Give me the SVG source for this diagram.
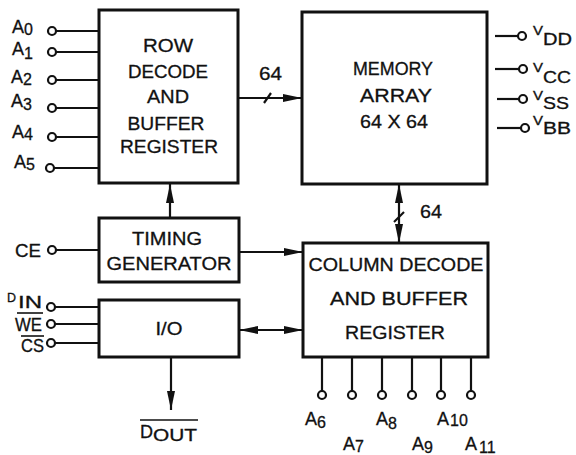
<svg xmlns="http://www.w3.org/2000/svg" width="576" height="455" viewBox="0 0 576 455">
<style>
.box{fill:#fff;stroke:#111;stroke-width:3}
.ln{stroke:#111;stroke-width:2.2;fill:none}
.ov{stroke:#111;stroke-width:1.6;fill:none}
.pin{fill:#fff;stroke:#111;stroke-width:2.2}
text{font-family:"Liberation Sans",Arial,Helvetica,sans-serif;fill:#111;stroke:#111;stroke-width:0.3}
.t{font-size:18px;text-anchor:middle}
.l{font-size:18px}
.s{font-size:16px}
.v{font-size:12px}
</style>
<defs>
<marker id="ah" markerUnits="userSpaceOnUse" markerWidth="20" markerHeight="9" refX="19" refY="4.5" orient="auto-start-reverse">
<path d="M0,0.5 L19,4.5 L0,8.5 z" fill="#111"/>
</marker>
</defs>
<rect width="576" height="455" fill="#fff"/>

<g id="connectors">
<line class="ln" x1="56" y1="31" x2="99" y2="31"/>
<line class="ln" x1="56" y1="52" x2="99" y2="52"/>
<line class="ln" x1="56" y1="80" x2="99" y2="80"/>
<line class="ln" x1="56" y1="108" x2="99" y2="108"/>
<line class="ln" x1="56" y1="137" x2="99" y2="137"/>
<line class="ln" x1="54" y1="168" x2="99" y2="168"/>
<line class="ln" x1="56" y1="250" x2="99" y2="250"/>
<line class="ln" x1="55" y1="307" x2="99" y2="307"/>
<line class="ln" x1="55" y1="324" x2="99" y2="324"/>
<line class="ln" x1="55" y1="343" x2="99" y2="343"/>
<line class="ln" x1="495" y1="36" x2="518" y2="36"/>
<line class="ln" x1="495" y1="69" x2="519" y2="69"/>
<line class="ln" x1="497" y1="99" x2="519" y2="99"/>
<line class="ln" x1="497" y1="128" x2="521" y2="128"/>
<line class="ln" x1="238" y1="98" x2="302" y2="98" marker-end="url(#ah)"/>
<line class="ln" x1="264" y1="103" x2="271" y2="93"/>
<line class="ln" x1="399" y1="184" x2="399" y2="243" marker-start="url(#ah)" marker-end="url(#ah)"/>
<line class="ln" x1="394" y1="222" x2="404" y2="212"/>
<line class="ln" x1="170" y1="218" x2="170" y2="184" marker-end="url(#ah)"/>
<line class="ln" x1="239" y1="252" x2="303" y2="252" marker-end="url(#ah)"/>
<line class="ln" x1="239" y1="330" x2="303" y2="330" marker-start="url(#ah)" marker-end="url(#ah)"/>
<line class="ln" x1="171" y1="357" x2="171" y2="410" marker-end="url(#ah)"/>
<line class="ln" x1="322" y1="357" x2="322" y2="391"/>
<line class="ln" x1="352" y1="357" x2="352" y2="391"/>
<line class="ln" x1="382" y1="357" x2="382" y2="391"/>
<line class="ln" x1="412" y1="357" x2="412" y2="391"/>
<line class="ln" x1="441" y1="357" x2="441" y2="391"/>
<line class="ln" x1="471" y1="357" x2="471" y2="391"/>
<text class="l" x="259" y="80" textLength="23" lengthAdjust="spacingAndGlyphs">64</text>
<text class="l" x="420" y="218" textLength="22" lengthAdjust="spacingAndGlyphs">64</text>
</g>

<g id="row-decode">
<rect class="box" x="99" y="10" width="139" height="173"/>
<text class="t" x="168" y="52" textLength="50" lengthAdjust="spacingAndGlyphs">ROW</text>
<text class="t" x="168" y="78" textLength="80" lengthAdjust="spacingAndGlyphs">DECODE</text>
<text class="t" x="168" y="103" textLength="42" lengthAdjust="spacingAndGlyphs">AND</text>
<text class="t" x="166" y="130" textLength="77" lengthAdjust="spacingAndGlyphs">BUFFER</text>
<text class="t" x="169" y="153" textLength="98" lengthAdjust="spacingAndGlyphs">REGISTER</text>
</g>

<g id="memory-array">
<rect class="box" x="302" y="12" width="185" height="172"/>
<text class="t" x="393" y="75" textLength="80" lengthAdjust="spacingAndGlyphs">MEMORY</text>
<text class="t" x="396" y="102" textLength="72" lengthAdjust="spacingAndGlyphs">ARRAY</text>
<text class="t" x="394" y="128" textLength="68" lengthAdjust="spacingAndGlyphs">64 X 64</text>
</g>

<g id="timing-generator">
<rect class="box" x="99" y="218" width="140" height="64"/>
<text class="t" x="167" y="245" textLength="70" lengthAdjust="spacingAndGlyphs">TIMING</text>
<text class="t" x="169" y="270" textLength="125" lengthAdjust="spacingAndGlyphs">GENERATOR</text>
</g>

<g id="io">
<rect class="box" x="99" y="300" width="140" height="57"/>
<text class="t" x="169" y="335" textLength="27" lengthAdjust="spacingAndGlyphs">I/O</text>
</g>

<g id="column-decode">
<rect class="box" x="303" y="243" width="185" height="114"/>
<text class="t" x="396" y="271" textLength="175" lengthAdjust="spacingAndGlyphs">COLUMN DECODE</text>
<text class="t" x="399" y="305" textLength="138" lengthAdjust="spacingAndGlyphs">AND  BUFFER</text>
<text class="t" x="395" y="339" textLength="100" lengthAdjust="spacingAndGlyphs">REGISTER</text>
</g>

<g id="row-address-pins">
<circle class="pin" cx="52" cy="31" r="4"/>
<circle class="pin" cx="52" cy="52" r="4"/>
<circle class="pin" cx="52" cy="80" r="4"/>
<circle class="pin" cx="52" cy="108" r="4"/>
<circle class="pin" cx="52" cy="137" r="4"/>
<circle class="pin" cx="50" cy="168" r="4"/>
<text class="l" x="12" y="33">A<tspan class="s" dy="2">0</tspan></text>
<text class="l" x="12" y="55">A<tspan class="s" dy="4">1</tspan></text>
<text class="l" x="11" y="83">A<tspan class="s" dy="2">2</tspan></text>
<text class="l" x="11" y="107">A<tspan class="s" dy="3">3</tspan></text>
<text class="l" x="12" y="138">A<tspan class="s" dy="2">4</tspan></text>
<text class="l" x="14" y="168">A<tspan class="s" dy="2">5</tspan></text>
</g>

<g id="ce-pin">
<circle class="pin" cx="52" cy="250" r="4"/>
<text class="l" x="15" y="257" textLength="26" lengthAdjust="spacingAndGlyphs">CE</text>
</g>

<g id="io-pins">
<circle class="pin" cx="51" cy="307" r="4"/>
<circle class="pin" cx="51" cy="324" r="4"/>
<circle class="pin" cx="51" cy="343" r="4"/>
<text class="v" x="7" y="302" textLength="9" lengthAdjust="spacingAndGlyphs">D</text>
<text class="s" x="18" y="308" textLength="24" lengthAdjust="spacingAndGlyphs">IN</text>
<line class="ov" x1="17" y1="313" x2="43" y2="313"/>
<text class="l" x="15" y="331" textLength="27" lengthAdjust="spacingAndGlyphs">WE</text>
<line class="ov" x1="21" y1="336" x2="44" y2="336"/>
<text class="l" x="21" y="352" textLength="23" lengthAdjust="spacingAndGlyphs">CS</text>
</g>

<g id="dout">
<line class="ov" x1="140" y1="420" x2="198" y2="420"/>
<text class="l" x="140" y="438" textLength="13" lengthAdjust="spacingAndGlyphs">D</text>
<text class="s" x="153" y="441" textLength="44" lengthAdjust="spacingAndGlyphs">OUT</text>
</g>

<g id="power-pins">
<circle class="pin" cx="522" cy="36" r="4"/>
<circle class="pin" cx="523" cy="69" r="4"/>
<circle class="pin" cx="523" cy="99" r="4"/>
<circle class="pin" cx="525" cy="128" r="4"/>
<text class="v" x="533" y="35" textLength="10" lengthAdjust="spacingAndGlyphs">V</text><text class="s" x="543" y="45" textLength="29" lengthAdjust="spacingAndGlyphs">DD</text>
<text class="v" x="533" y="72" textLength="10" lengthAdjust="spacingAndGlyphs">V</text><text class="s" x="543" y="83" textLength="28" lengthAdjust="spacingAndGlyphs">CC</text>
<text class="v" x="533" y="100" textLength="10" lengthAdjust="spacingAndGlyphs">V</text><text class="s" x="543" y="109" textLength="26" lengthAdjust="spacingAndGlyphs">SS</text>
<text class="v" x="533" y="125" textLength="10" lengthAdjust="spacingAndGlyphs">V</text><text class="s" x="543" y="134" textLength="28" lengthAdjust="spacingAndGlyphs">BB</text>
</g>

<g id="column-address-pins">
<circle class="pin" cx="322" cy="395" r="4"/>
<circle class="pin" cx="352" cy="395" r="4"/>
<circle class="pin" cx="382" cy="395" r="4"/>
<circle class="pin" cx="412" cy="395" r="4"/>
<circle class="pin" cx="441" cy="395" r="4"/>
<circle class="pin" cx="471" cy="395" r="4"/>
<text class="l" x="305" y="425">A<tspan class="s" dy="3">6</tspan></text>
<text class="l" x="343" y="450">A<tspan class="s" dy="2">7</tspan></text>
<text class="l" x="376" y="425">A<tspan class="s" dy="4">8</tspan></text>
<text class="l" x="412" y="450">A<tspan class="s" dy="3">9</tspan></text>
<text class="l" x="437" y="425">A<tspan class="s" dy="1" dx="1">10</tspan></text>
<text class="l" x="465" y="450">A<tspan class="s" dy="3" dx="2">11</tspan></text>
</g>
</svg>
